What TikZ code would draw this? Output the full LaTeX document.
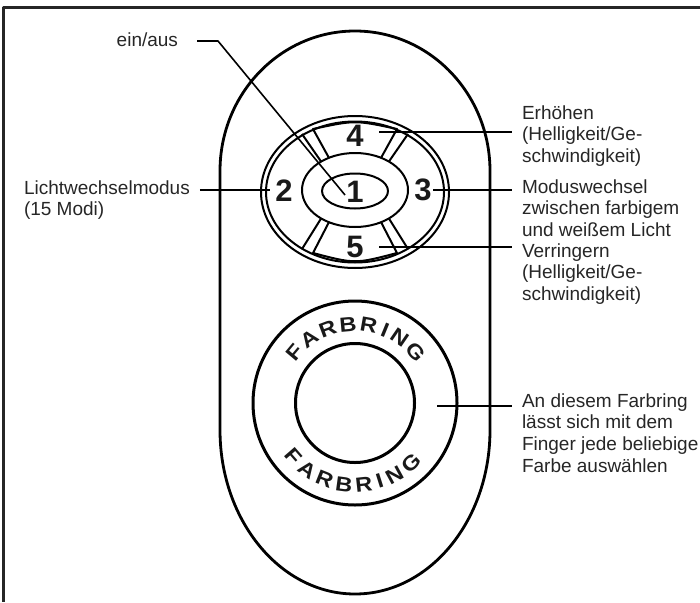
\documentclass[tikz,border=0pt]{standalone}
\usepackage{fontspec}
\setmainfont{Liberation Sans}
\usetikzlibrary{shapes.geometric}

\tikzset{
  lbl/.style={inner sep=0pt, outer xsep=10pt, outer ysep=0pt, align=left, text=black!85,
    font=\fontsize{19}{21.7}\selectfont},
  num/.style={inner sep=0pt, text=black!90, font=\fontsize{31}{31}\selectfont\bfseries},
  ch/.style={inner sep=0pt, text=black!90, font=\fontsize{20.5}{20.5}\selectfont\bfseries},
  leader/.style={line width=2.2pt},
  btn/.style={line width=2pt},
}

\begin{document}
\begin{tikzpicture}[x=1pt,y=-1pt,line join=round]
\useasboundingbox (0,0) rectangle (700,602);
% frame, cut off at right and bottom
\draw[line width=3pt,black!85] (700,7.5) -- (3.2,7.5) -- (3.2,602);

% remote body
\draw[line width=2.8pt] (220,171) arc[start angle=180,end angle=360,x radius=135,y radius=140]
  -- (490,430) arc[start angle=0,end angle=180,x radius=135,y radius=164] -- cycle;

% key pad
\draw[btn] (355,192) ellipse[x radius=94,y radius=76];
\draw[btn] (355,192) ellipse[x radius=89,y radius=70.5];
\node[btn,draw,ellipse,minimum width=106,minimum height=74,inner sep=0pt,outer sep=0pt] (pad) at (355,190) {};
\node[btn,draw,ellipse,minimum width=66,minimum height=35,inner sep=0pt,outer sep=0pt] (key1) at (355,191) {};
\draw[btn] (pad.140) -- (302,134) (pad.40) -- (408,134)
  (pad.220) -- (302,249) (pad.320) -- (408,249);
\draw[btn] (pad.129) -- (313,129) .. controls (355,120) .. (397,129) -- (pad.51);
\draw[btn] (pad.231) -- (313,253) .. controls (355,264) .. (397,253) -- (pad.309);

\node[num] (n4) at (355,136) {4};
\node[num] (n2) at (284,191) {2};
\node[num] (n1) at (355,192) {1};
\node[num] (n3) at (423,190) {3};
\node[num] (n5) at (355,247) {5};

% colour ring
\node[circle,draw,line width=3pt,minimum size=204,inner sep=0pt] (ring) at (355,403) {};
\node[circle,draw,line width=3pt,minimum size=119,inner sep=0pt] (disc) at (355,403) {};
\begin{scope}[shift={(ring.center)},y=1pt]
\foreach \c/\a [count=\i] in {F/140,A/125.5,R/110.3,B/95.1,R/79.9,I/67.7,N/55.5,G/39.9}
  \node[ch,rotate=\a-90,xscale=1.15] (top\i) at (\a:79) {\c};
\foreach \c/\a [count=\i] in {F/221,A/234.3,R/248.3,B/262.3,R/276.2,I/287.4,N/298.7,G/313}
  \node[ch,rotate=\a-270,xscale=1.15] (bot\i) at (\a:82) {\c};
\end{scope}

% labels
\node[lbl,anchor=east,outer xsep=19pt] (einaus) at (197,40) {ein/aus};
\node[lbl,anchor=north west] (licht) at (14,180.5) {Lichtwechselmodus\\(15 Modi)};
\node[lbl,anchor=north west] (erh) at (512,105.5) {Erhöhen\\(Helligkeit/Ge-\\schwindigkeit)};
\node[lbl,anchor=north west] (modus) at (512,179.5) {Moduswechsel\\zwischen farbigem\\und weißem Licht};
\node[lbl,anchor=north west] (verr) at (512,243.5) {Verringern\\(Helligkeit/Ge-\\schwindigkeit)};
\node[lbl,anchor=north west] (farb) at (512,393.5) {An diesem Farbring\\lässt sich mit dem\\Finger jede beliebige\\Farbe auswählen};

% leaders
\coordinate (k1) at (218,41);
\coordinate (p1) at (345,195);
\coordinate (p2) at (270,190);
\coordinate (p3) at (433,190);
\coordinate (p4) at (379,132);
\coordinate (p5) at (379,247);
\coordinate (pf) at (437,406);
\draw[line width=1.6pt] (einaus.east |- k1) -- (k1) -- (p1);
\draw[leader] (p2 -| licht.east) -- (p2);
\draw[leader] (p4) -- (p4 -| erh.west);
\draw[leader] (p3) -- (p3 -| modus.west);
\draw[leader] (p5) -- (p5 -| verr.west);
\draw[leader] (pf) -- (pf -| farb.west);
\end{tikzpicture}
\end{document}
